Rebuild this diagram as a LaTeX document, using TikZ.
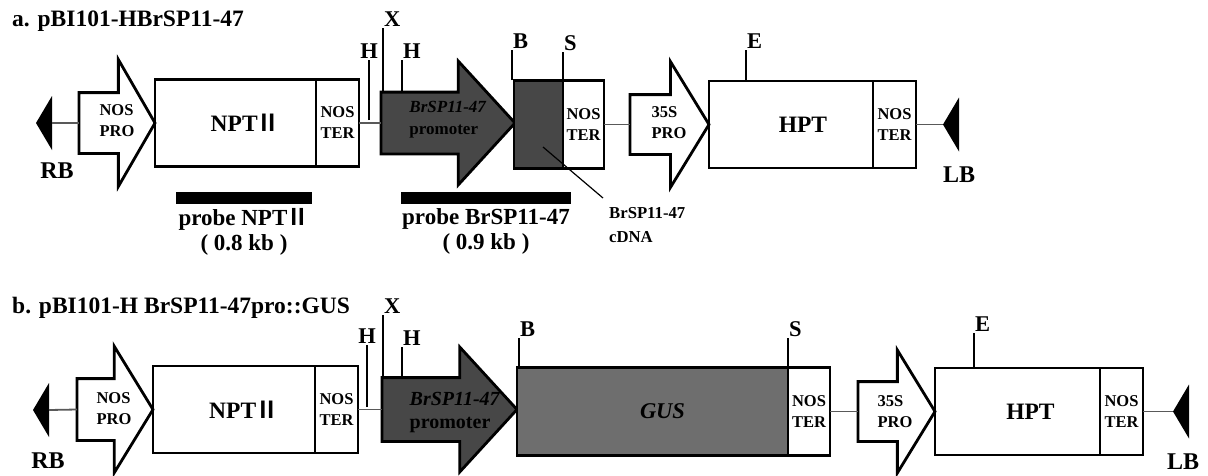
\documentclass[tikz,border=0pt]{standalone}
\usepackage{fontspec}
\setmainfont{Liberation Serif}
\newfontfamily\cjk{Noto Sans CJK JP}[BoldFont={Noto Sans CJK JP Bold}]
\usetikzlibrary{shapes.arrows,positioning}

\newcommand{\romII}{{\kern-0.04em\cjk Ⅱ}}
\definecolor{promgray}{gray}{0.28}
\definecolor{gusgray}{gray}{0.43}

\tikzset{
    genebox/.style={draw, line width=2.8pt, inner sep=0pt, outer sep=0pt, minimum height=87pt, anchor=west},
    terbox/.style={genebox, minimum width=43pt, align=center, font=\bfseries\fontsize{16.5}{21}\selectfont},
    promarrow/.style={single arrow, draw, line width=2.8pt, inner xsep=0pt, outer sep=0pt,
        text height=0pt, text depth=0pt, anchor=tail},
    genetext/.style={font=\bfseries\fontsize{23.5}{26}\selectfont, inner sep=0pt, text=black},
    smalltext/.style={font=\bfseries\fontsize{16.5}{21}\selectfont, align=left, inner sep=0pt},
    promtext/.style={font=\bfseries\fontsize{17}{22}\selectfont, align=left, inner sep=0pt, text=black},
    backbone/.style={line width=1.8pt, black!65},
    siteline/.style={line width=1.2pt},
    site/.style={font=\bfseries\fontsize{22.5}{24}\selectfont, inner sep=0.5pt},
    border/.style={font=\bfseries\fontsize{24}{26}\selectfont, inner sep=0pt},
    probebar/.style={fill, minimum height=12pt, inner sep=0pt, outer sep=0pt, anchor=north west},
    probetext/.style={font=\bfseries\fontsize{23}{25}\selectfont, align=center, inner sep=0pt},
    cdnatext/.style={font=\bfseries\fontsize{16.7}{24}\selectfont, align=left, inner sep=0pt},
    title/.style={font=\bfseries\fontsize{23.5}{26}\selectfont, anchor=base west, inner sep=0pt},
}

\begin{document}
\begin{tikzpicture}[x=1pt, y=-1pt]
        \useasboundingbox (0,0) rectangle (1208,475);

        % a. pBI101-HBrSP11-47
        \node[title] (titlea) at (12,26) {a. pBI101-HBrSP11-47};
        \fill (36,123) -- ++(16,-27) -- ++(0,54) -- cycle;
        \coordinate (rba) at (52,123);
        \node[border] (rba-t) at (57,171) {RB};
        \node[promarrow, minimum height=76pt, inner ysep=29pt, single arrow head extend=33pt,
            single arrow tip angle=120] (nosproa) at (79,123) {};
        \node[smalltext] (nosproa-t) at (117,121) {NOS\\PRO};
        \node[genebox, minimum width=161pt, right=0pt of nosproa.tip] (npta) {};
        \node[genetext] (npta-t) at ([xshift=10pt]npta.center) {NPT\romII};
        \node[terbox, right=0pt of npta] (noster1a) {NOS\\TER};
        \node[promarrow, fill=promgray, minimum height=134pt, inner ysep=29.5pt,
            single arrow head extend=31pt, single arrow tip angle=95] (proma) at (381,123) {};
        \node[promtext] (proma-t) at (448,120) {\textit{BrSP11-47}\\promoter};
        \node[genebox, fill=promgray, minimum width=49pt, minimum height=88pt] (cdnaa) at (514,124.5) {};
        \node[terbox, minimum width=41pt, minimum height=88pt, right=0pt of cdnaa] (noster2a) {NOS\\TER};
        \node[promarrow, minimum height=79pt, inner ysep=28.5pt, single arrow head extend=33pt,
            single arrow tip angle=117] (s35a) at (630,124.5) {};
        \node[smalltext] (s35a-t) at (669,123) {35S\\PRO};
        \node[genebox, minimum width=164pt, right=0pt of s35a.tip] (hpta) {};
        \node[genetext] (hpta-t) at ([xshift=12pt]hpta.center) {HPT};
        \node[terbox, right=0pt of hpta] (noster3a) {NOS\\TER};
        \fill (943,124.5) -- ++(16,-27) -- ++(0,54) -- cycle;
        \coordinate (lba) at (943,124.5);
        \node[border] (lba-t) at (959,175) {LB};

        \draw[backbone] (rba) -- (nosproa.tail);
        \draw[backbone] (noster1a.east) -- (proma.tail);
        \draw[backbone] (noster2a.east) -- (s35a.tail);
        \draw[backbone] (noster3a.east) -- (lba);

        \foreach \nm/\x/\yb/\len/\anc/\lab in {ha1/369/120/60/south/H, xa/383/93/65/south west/X,
            ha2/402/93/33/south west/H, ba/512/80/30/south west/B, sa/563/80/28/south west/S,
            ea/746/81/31/south west/E}
            \draw[siteline] (\x,\yb) coordinate (\nm) -- ++(0,-\len) node[site, anchor=\anc] (\nm-t) {\lab};

        \node[probebar, minimum width=136pt] (probe1) at (176,192) {};
        \node[probetext, below=4pt of probe1] (probe1-t) {probe NPT\romII\\( 0.8 kb )};
        \node[probebar, minimum width=170pt] (probe2) at (401,192) {};
        \node[probetext, below=4pt of probe2] (probe2-t) {probe BrSP11-47\\( 0.9 kb )};

        \coordinate (cdnaa-in) at (543,147);
        \coordinate (lead) at (603,198);
        \draw[siteline] (cdnaa-in) -- (lead);
        \node[cdnatext, anchor=north west] (cdnaa-t) at (609,207) {BrSP11-47\\cDNA};

        % b. pBI101-H BrSP11-47pro::GUS
        \node[title] (titleb) at (12,313) {b. pBI101-H BrSP11-47pro::GUS};
        \fill (33,410) -- ++(16,-27) -- ++(0,54) -- cycle;
        \coordinate (rbb) at (49,410);
        \node[border] (rbb-t) at (48,461) {RB};
        \node[promarrow, minimum height=76pt, inner ysep=29.5pt, single arrow head extend=32.5pt,
            single arrow tip angle=117] (nosprob) at (77,409.5) {};
        \node[smalltext] (nosprob-t) at (114,409) {NOS\\PRO};
        \node[genebox, minimum width=162pt, right=0pt of nosprob.tip] (nptb) {};
        \node[genetext] (nptb-t) at ([xshift=10pt]nptb.center) {NPT\romII};
        \node[terbox, right=0pt of nptb] (noster1b) {NOS\\TER};
        \node[promarrow, fill=promgray, minimum height=135pt, inner ysep=30.5pt,
            single arrow head extend=30.5pt, single arrow tip angle=95] (promb) at (382,409.5) {};
        \node[promtext, font=\bfseries\fontsize{20}{23}\selectfont] (promb-t) at (455,412) {\textit{BrSP11-47}\\promoter};
        \node[genebox, fill=gusgray, minimum width=271pt, minimum height=88pt] (gusb) at (517,411.5) {};
        \node[genetext, font=\bfseries\itshape\fontsize{22.5}{26}\selectfont] (gusb-t) at ([xshift=10pt]gusb.center) {GUS};
        \node[terbox, minimum width=42pt, minimum height=88pt, right=0pt of gusb] (noster2b) {NOS\\TER};
        \node[promarrow, minimum height=77pt, inner ysep=28.5pt, single arrow head extend=31.5pt,
            single arrow tip angle=117] (s35b) at (858,411.5) {};
        \node[smalltext] (s35b-t) at (895,412) {35S\\PRO};
        \node[genebox, minimum width=165pt, right=0pt of s35b.tip] (hptb) {};
        \node[genetext] (hptb-t) at ([xshift=13pt]hptb.center) {HPT};
        \node[terbox, right=0pt of hptb] (noster3b) {NOS\\TER};
        \fill (1173,411.5) -- ++(16,-27) -- ++(0,54) -- cycle;
        \coordinate (lbb) at (1173,411.5);
        \node[border] (lbb-t) at (1183,462) {LB};

        \draw[backbone] (rbb) -- (nosprob.tail);
        \draw[backbone] (noster1b.east) -- (promb.tail);
        \draw[backbone] (noster2b.east) -- (s35b.tail);
        \draw[backbone] (noster3b.east) -- (lbb);

        \foreach \nm/\x/\yb/\len/\anc/\lab in {hb1/367/407/62/south/H, xb/383/378/63/south west/X,
            hb2/402/378/31/south west/H, bb/519/367/29/south west/B, sb/788/368/30/south west/S,
            eb/974/368/35/south west/E}
            \draw[siteline] (\x,\yb) coordinate (\nm) -- ++(0,-\len) node[site, anchor=\anc] (\nm-t) {\lab};
\end{tikzpicture}
\end{document}
